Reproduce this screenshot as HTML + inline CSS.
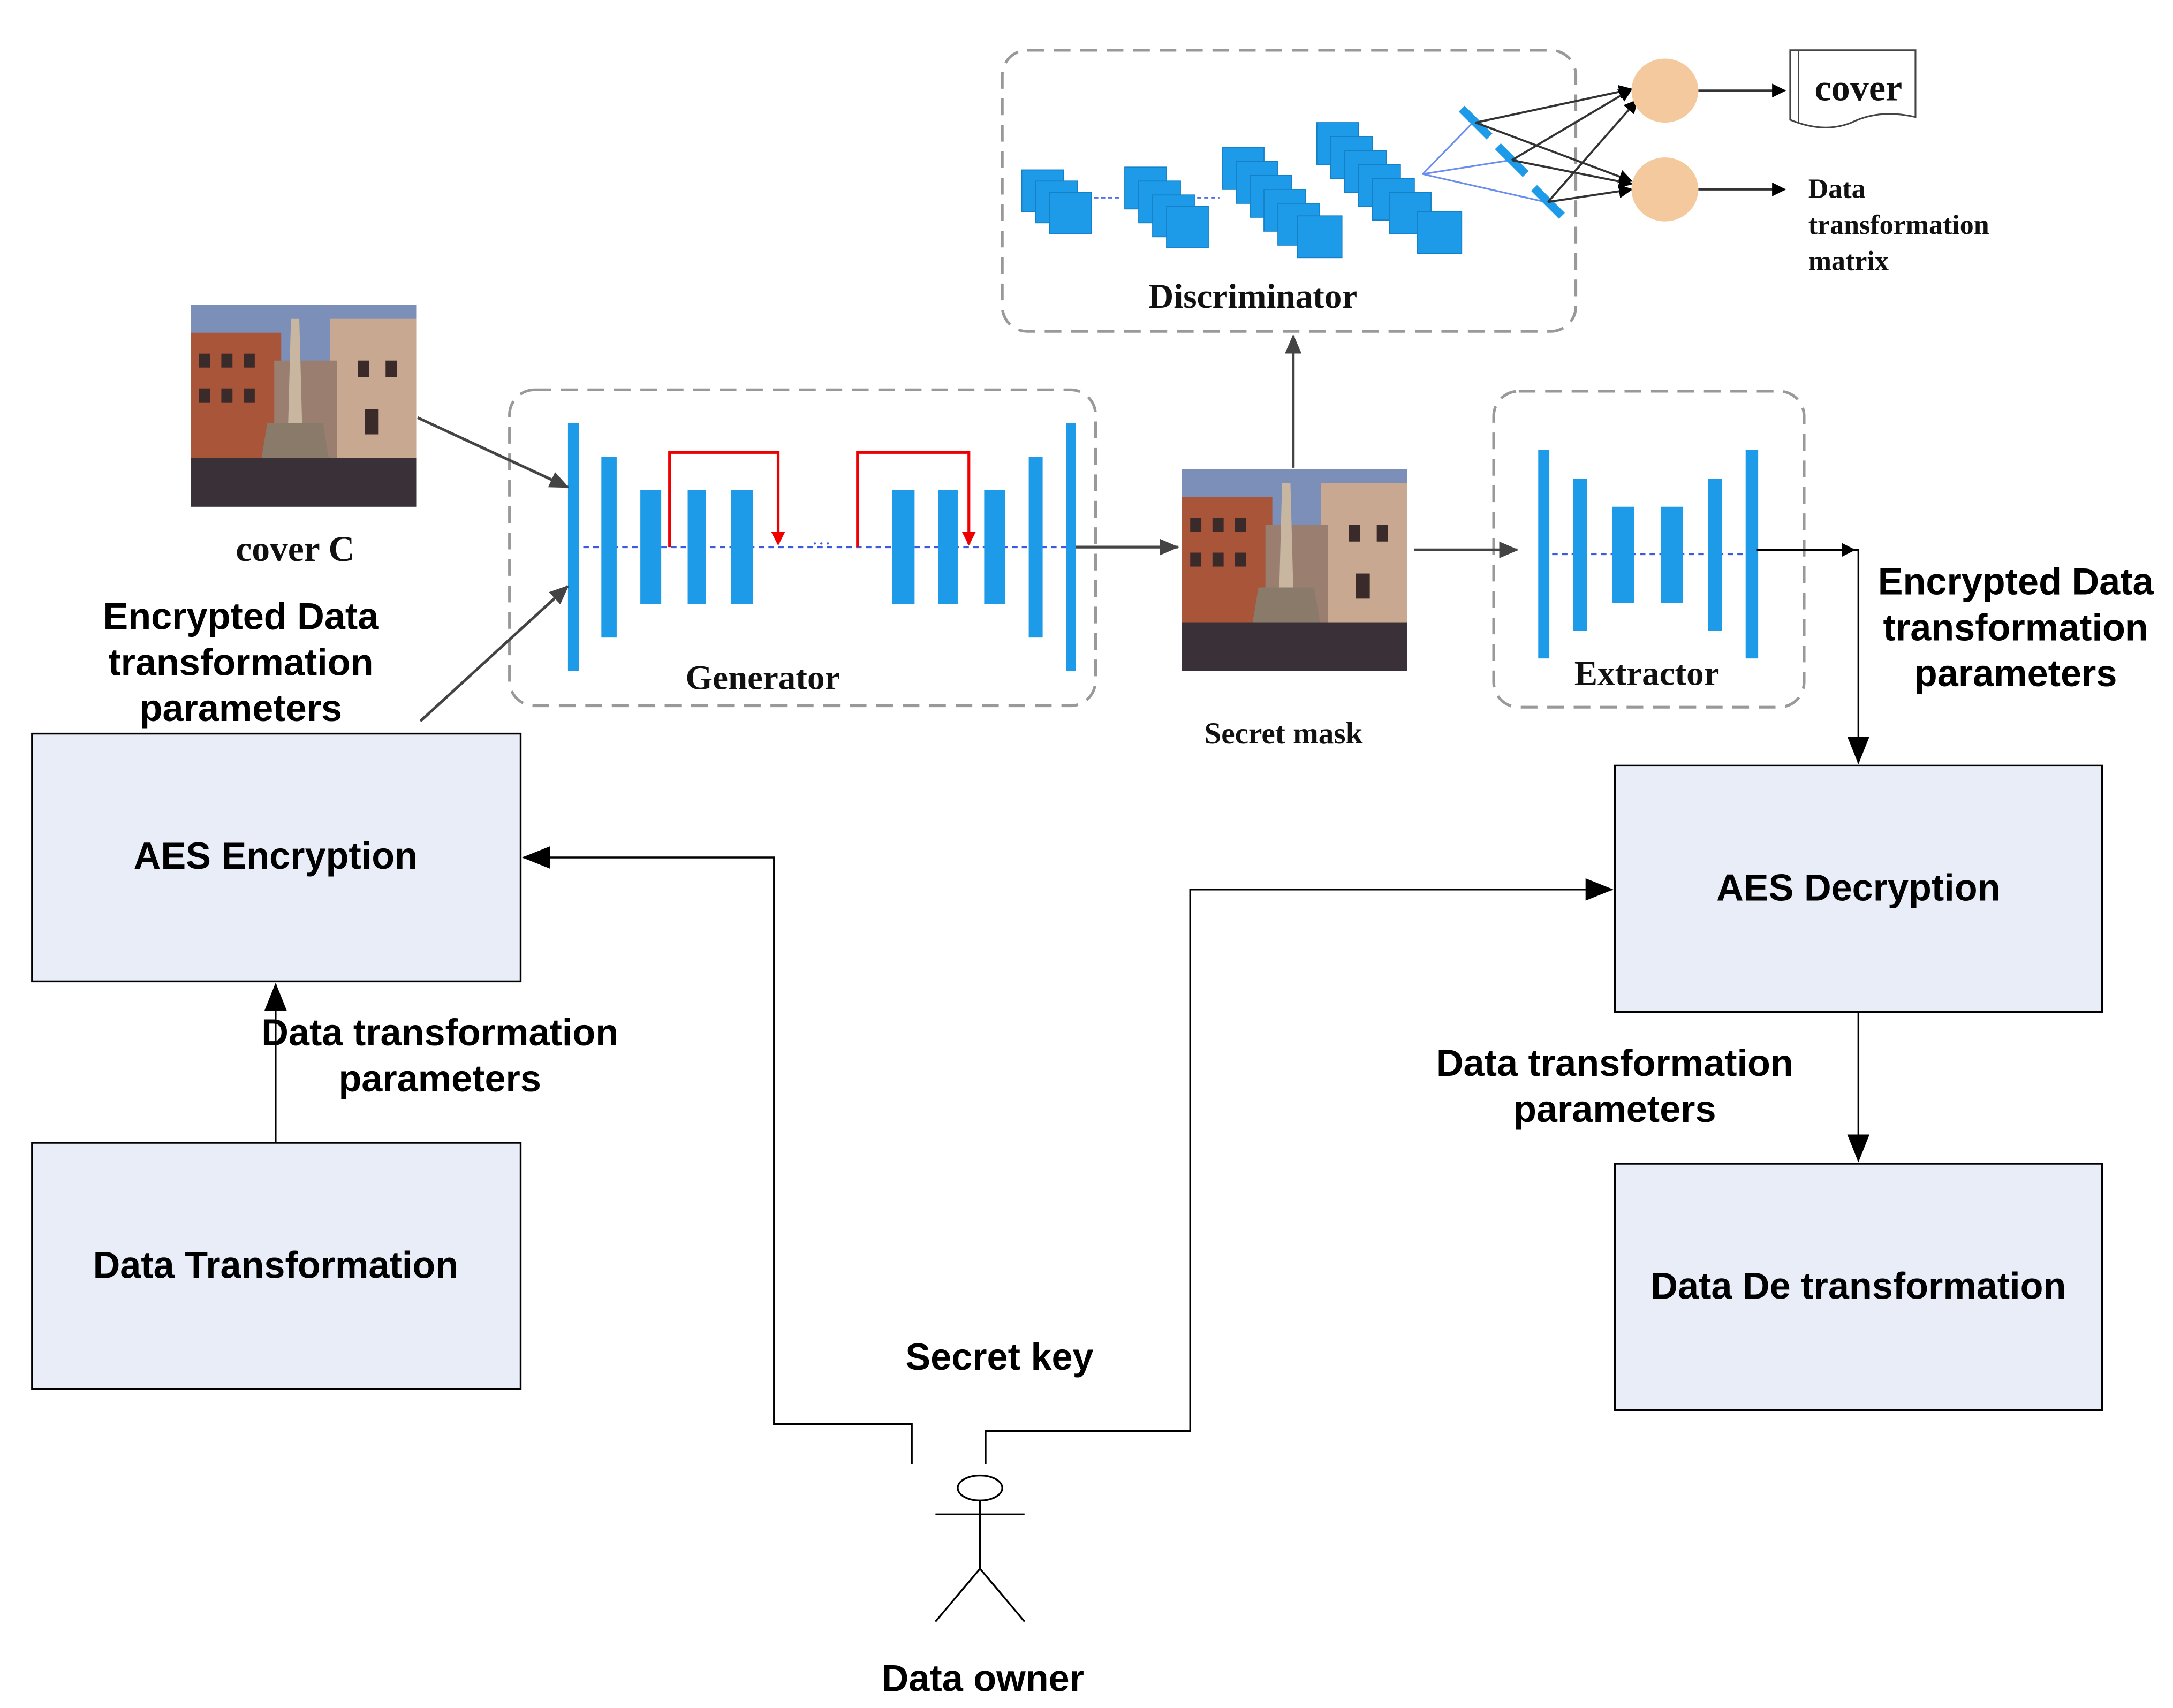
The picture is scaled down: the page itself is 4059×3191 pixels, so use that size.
<!DOCTYPE html>
<html><head><meta charset="utf-8"><style>
html,body{margin:0;padding:0;background:#fff;}
svg{display:block;}
.s{font-family:"Liberation Sans",Arial,sans-serif;font-weight:bold;fill:#000;}
.r{font-family:"Liberation Serif","Times New Roman",serif;font-weight:bold;fill:#111;}
</style></head><body>
<svg width="4059" height="3191" viewBox="0 0 1561 1227" xmlns="http://www.w3.org/2000/svg">
<defs>
<marker id="ab" markerWidth="10" markerHeight="10" refX="9" refY="5" orient="auto" markerUnits="userSpaceOnUse"><path d="M0,0 L10,5 L0,10 z" fill="#000"/></marker>
<marker id="abig" markerWidth="20" markerHeight="16" refX="19" refY="8" orient="auto" markerUnits="userSpaceOnUse"><path d="M0,0 L20,8 L0,16 z" fill="#000"/></marker>
<marker id="ag" markerWidth="14" markerHeight="12" refX="13" refY="6" orient="auto" markerUnits="userSpaceOnUse"><path d="M0,0 L14,6 L0,12 z" fill="#444"/></marker>
<marker id="ar" markerWidth="10" markerHeight="10" refX="9" refY="5" orient="auto" markerUnits="userSpaceOnUse"><path d="M0,0 L10,5 L0,10 z" fill="#e00"/></marker>
<g id="photo">
<rect x="0" y="0" width="162" height="145" fill="#7c8fb8"/>
<rect x="0" y="20" width="65" height="95" fill="#a8553a"/>
<rect x="100" y="10" width="62" height="105" fill="#c8a890"/>
<rect x="60" y="40" width="45" height="75" fill="#9a7e70"/>
<g fill="#3a2a2a"><rect x="6" y="35" width="8" height="10"/><rect x="22" y="35" width="8" height="10"/><rect x="38" y="35" width="8" height="10"/><rect x="6" y="60" width="8" height="10"/><rect x="22" y="60" width="8" height="10"/><rect x="38" y="60" width="8" height="10"/><rect x="120" y="40" width="8" height="12"/><rect x="140" y="40" width="8" height="12"/><rect x="125" y="75" width="10" height="18"/></g>
<polygon points="72,10 78,10 80,85 70,85" fill="#c8b6a0"/>
<polygon points="55,85 95,85 100,115 50,115" fill="#8a7a6a"/>
<rect x="0" y="110" width="162" height="35" fill="#3a3038"/>
</g>
</defs>

<use href="#photo" x="137" y="219"/>
<text class="r" x="212" y="403" font-size="26" text-anchor="middle">cover C</text>
<use href="#photo" x="849" y="337"/>
<text class="r" x="922" y="534" font-size="22" text-anchor="middle">Secret mask</text>

<g fill="none" stroke="#999" stroke-width="2" stroke-dasharray="12,7">
<rect x="366" y="280" width="421" height="227" rx="18"/>
<rect x="1073" y="281" width="223" height="227" rx="18"/>
<rect x="720" y="36" width="412" height="202" rx="18"/>
</g>
<text class="r" x="548" y="495" font-size="25" text-anchor="middle">Generator</text>
<text class="r" x="1183" y="492" font-size="25" text-anchor="middle">Extractor</text>
<text class="r" x="900" y="221" font-size="25" text-anchor="middle">Discriminator</text>

<line x1="412" y1="393" x2="772" y2="393" stroke="#3a5ae0" stroke-width="1.5" stroke-dasharray="4,3"/>
<g fill="#1e9be8">
<rect x="408" y="304" width="8" height="178"/>
<rect x="432" y="328" width="11" height="130"/>
<rect x="460" y="352" width="15" height="82"/>
<rect x="494" y="352" width="13" height="82"/>
<rect x="525" y="352" width="16" height="82"/>
<rect x="641" y="352" width="16" height="82"/>
<rect x="674" y="352" width="14" height="82"/>
<rect x="707" y="352" width="15" height="82"/>
<rect x="739" y="328" width="10" height="130"/>
<rect x="766" y="304" width="7" height="178"/>
</g>
<text x="590" y="395" font-size="14" fill="#3a5ae0" text-anchor="middle">···</text>
<g fill="none" stroke="#e00" stroke-width="2">
<polyline points="481,393 481,325 559,325 559,391" marker-end="url(#ar)"/>
<polyline points="616,393 616,325 696,325 696,391" marker-end="url(#ar)"/>
</g>
<line x1="1108" y1="398" x2="1260" y2="398" stroke="#3a5ae0" stroke-width="1.5" stroke-dasharray="4,3"/>
<g fill="#1e9be8">
<rect x="1105" y="323" width="8" height="150"/>
<rect x="1130" y="344" width="10" height="109"/>
<rect x="1158" y="364" width="16" height="69"/>
<rect x="1193" y="364" width="16" height="69"/>
<rect x="1227" y="344" width="10" height="109"/>
<rect x="1254" y="323" width="9" height="150"/>
</g>

<g fill="#1e9be8" stroke="#1580c8" stroke-width="0.7">
<rect x="734" y="122" width="30" height="30"/><rect x="744" y="130" width="30" height="30"/><rect x="754" y="138" width="30" height="30"/>
<rect x="808" y="120" width="30" height="30"/><rect x="818" y="130" width="30" height="30"/><rect x="828" y="140" width="30" height="30"/><rect x="838" y="148" width="30" height="30"/>
<rect x="878" y="106" width="30" height="30"/><rect x="888" y="116" width="30" height="30"/><rect x="898" y="126" width="30" height="30"/><rect x="908" y="136" width="30" height="30"/><rect x="918" y="146" width="30" height="30"/><rect x="932" y="155" width="32" height="30"/>
<rect x="946" y="88" width="30" height="30"/><rect x="956" y="98" width="30" height="30"/><rect x="966" y="108" width="30" height="30"/><rect x="976" y="118" width="30" height="30"/><rect x="986" y="128" width="30" height="30"/><rect x="998" y="138" width="30" height="30"/><rect x="1018" y="152" width="32" height="30"/>
</g>
<g stroke="#3a5ae0" stroke-width="1" stroke-dasharray="3,2"><line x1="786" y1="142" x2="806" y2="142"/><line x1="860" y1="142" x2="876" y2="142"/></g>
<g stroke="#6a8ef0" stroke-width="1.2"><line x1="1022" y1="125" x2="1058" y2="88"/><line x1="1022" y1="125" x2="1085" y2="115"/><line x1="1022" y1="125" x2="1110" y2="145"/></g>
<g stroke="#1e9be8" stroke-width="6"><line x1="1050" y1="78" x2="1070" y2="98"/><line x1="1076" y1="105" x2="1096" y2="125"/><line x1="1102" y1="135" x2="1122" y2="155"/></g>
<g stroke="#333" stroke-width="1.5" fill="none">
<line x1="1060" y1="88" x2="1172" y2="64" marker-end="url(#ab)"/>
<line x1="1060" y1="88" x2="1172" y2="130" marker-end="url(#ab)"/>
<line x1="1086" y1="115" x2="1172" y2="64" marker-end="url(#ab)"/>
<line x1="1086" y1="115" x2="1172" y2="132" marker-end="url(#ab)"/>
<line x1="1112" y1="145" x2="1176" y2="72" marker-end="url(#ab)"/>
<line x1="1112" y1="145" x2="1172" y2="136" marker-end="url(#ab)"/>
<line x1="1220" y1="65" x2="1282" y2="65" marker-end="url(#ab)"/>
<line x1="1220" y1="136" x2="1282" y2="136" marker-end="url(#ab)"/>
</g>
<ellipse cx="1196" cy="65" rx="24" ry="23" fill="#f5c99e"/>
<ellipse cx="1196" cy="136" rx="24" ry="23" fill="#f5c99e"/>
<path d="M1286,36 L1376,36 L1376,84 Q1350,78 1330,88 Q1310,96 1286,86 Z" fill="#fff" stroke="#444" stroke-width="1.2"/>
<line x1="1292" y1="36" x2="1292" y2="88" stroke="#444" stroke-width="1"/>
<text class="r" x="1335" y="72" font-size="27" text-anchor="middle">cover</text>
<text class="r" x="1299" y="142" font-size="20">Data</text>
<text class="r" x="1299" y="168" font-size="20">transformation</text>
<text class="r" x="1299" y="194" font-size="20">matrix</text>

<g stroke="#444" stroke-width="2" fill="none">
<line x1="300" y1="300" x2="408" y2="350" marker-end="url(#ag)"/>
<line x1="302" y1="518" x2="408" y2="421" marker-end="url(#ag)"/>
<line x1="773" y1="393" x2="846" y2="393" marker-end="url(#ag)"/>
<line x1="929" y1="336" x2="929" y2="241" marker-end="url(#ag)"/>
<line x1="1016" y1="395" x2="1090" y2="395" marker-end="url(#ag)"/>
</g>

<g fill="#e8edf7" stroke="#000" stroke-width="1.3">
<rect x="23" y="527" width="351" height="178"/>
<rect x="23" y="821" width="351" height="177"/>
<rect x="1160" y="550" width="350" height="177"/>
<rect x="1160" y="836" width="350" height="177"/>
</g>
<text class="s" x="198" y="624" font-size="27" text-anchor="middle">AES Encryption</text>
<text class="s" x="198" y="918" font-size="27" text-anchor="middle">Data Transformation</text>
<text class="s" x="1335" y="647" font-size="27" text-anchor="middle">AES Decryption</text>
<text class="s" x="1335" y="933" font-size="27" text-anchor="middle">Data De transformation</text>

<g stroke="#000" stroke-width="1.3" fill="none">
<line x1="198" y1="821" x2="198" y2="707" marker-end="url(#abig)"/>
<polyline points="655,1052 655,1023 556,1023 556,616 376,616" marker-end="url(#abig)"/>
<polyline points="708,1052 708,1028 855,1028 855,639 1158,639" marker-end="url(#abig)"/>
<line x1="1335" y1="727" x2="1335" y2="834" marker-end="url(#abig)"/>
<polyline points="1262,395 1335,395 1335,548" marker-end="url(#abig)"/>
<line x1="1262" y1="395" x2="1332" y2="395" marker-end="url(#ab)"/>
</g>

<g class="s" font-size="27" text-anchor="middle">
<text x="173" y="452">Encrypted Data</text><text x="173" y="485">transformation</text><text x="173" y="518">parameters</text>
<text x="1448" y="427">Encrypted Data</text><text x="1448" y="460">transformation</text><text x="1448" y="493">parameters</text>
<text x="316" y="751">Data transformation</text><text x="316" y="784">parameters</text>
<text x="1160" y="773">Data transformation</text><text x="1160" y="806">parameters</text>
<text x="718" y="984">Secret key</text>
<text x="706" y="1215">Data owner</text>
</g>

<g stroke="#000" stroke-width="1.3" fill="none">
<ellipse cx="704" cy="1069" rx="16" ry="9"/>
<line x1="704" y1="1078" x2="704" y2="1127"/>
<line x1="672" y1="1088" x2="736" y2="1088"/>
<line x1="704" y1="1127" x2="672" y2="1165"/>
<line x1="704" y1="1127" x2="736" y2="1165"/>
</g>
</svg>
</body></html>
